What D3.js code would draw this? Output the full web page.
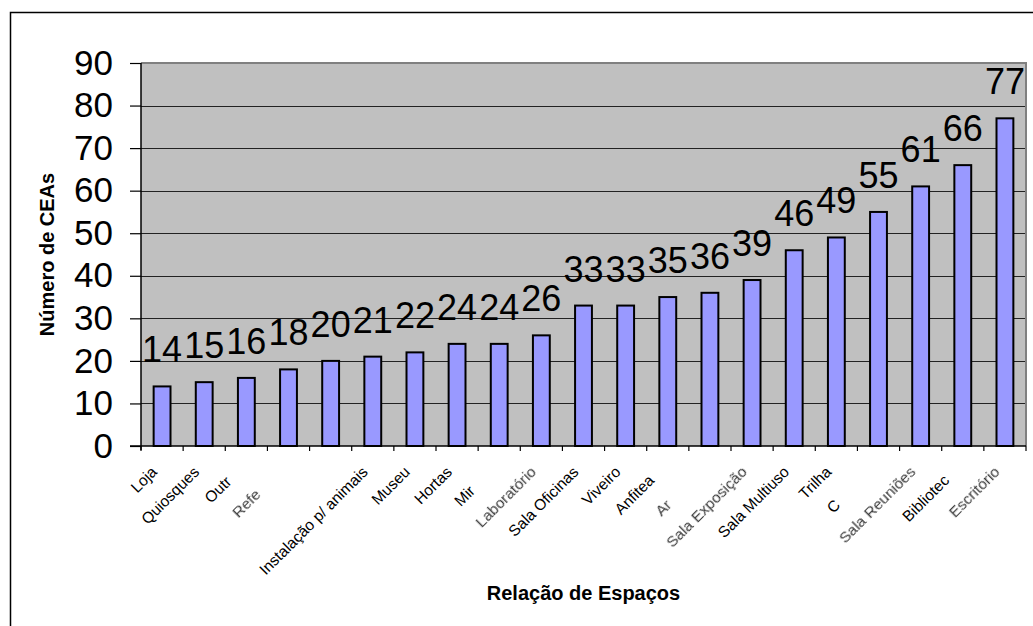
<!DOCTYPE html>
<html>
<head>
<meta charset="utf-8">
<script src="https://cdn.jsdelivr.net/npm/d3@7"></script>
<style>
  html, body { margin: 0; padding: 0; background: #fff; }
  svg { display: block; font-family: "Liberation Sans", Arial, sans-serif; }
</style>
</head>
<body>
<svg id="chart" width="1033" height="626"></svg>
<script>
// Spaces available in the environmental education centres (CEAs)
const categories = [
  "Loja", "Quiosques", "Outr", "Refe", "", "Instalação p/ animais", "Museu",
  "Hortas", "Mir", "Laboratório", "Sala Oficinas", "Viveiro", "Anfitea", "Ar",
  "Sala Exposição", "Sala Multiuso", "Trilha", "C", "Sala Reuniões",
  "Bibliotec", "Escritório"
];
const counts = [14, 15, 16, 18, 20, 21, 22, 24, 24, 26, 33, 33, 35, 36, 39, 46, 49, 55, 61, 66, 77];
const yTicks = [0, 10, 20, 30, 40, 50, 60, 70, 80, 90];
const yTitle = "Número de CEAs";
const xTitle = "Relação de Espaços";

// Label layout: shortened labels slide back along their baseline,
// and a few labels are printed in a softer grey.
const labelShift = { 2: 14, 3: 32, 8: 27, 12: 12, 13: 47, 17: 47, 19: 12 };
const softLabels = new Set([3, 9, 13, 14, 18, 20]);

const svg = d3.select("#chart");
const plot = { left: 141, right: 1026, top: 63, bottom: 446 };

const defs = svg.append("defs");
defs.append("filter").attr("id", "soft")
  .attr("x", "-10%").attr("y", "-10%").attr("width", "120%").attr("height", "120%")
  .append("feGaussianBlur").attr("stdDeviation", 0.5);

// outer frame (runs past the right and bottom edges)
svg.append("rect")
  .attr("x", 10.5).attr("y", 12.5)
  .attr("width", 1200).attr("height", 800)
  .attr("fill", "none").attr("stroke", "#000").attr("stroke-width", 1.5);

const x = d3.scaleBand()
  .domain(d3.range(categories.length))
  .range([plot.left, plot.right])
  .paddingInner(0.6).paddingOuter(0.3);

const y = d3.scaleLinear().domain([0, 90]).range([plot.bottom, plot.top]);

// plot background
svg.append("rect")
  .attr("x", plot.left).attr("y", plot.top)
  .attr("width", plot.right - plot.left).attr("height", plot.bottom - plot.top)
  .attr("fill", "#c0c0c0");

// horizontal gridlines
svg.append("g")
  .selectAll("line")
  .data(yTicks.filter(t => t > 0 && t < 90))
  .join("line")
  .attr("x1", plot.left).attr("x2", plot.right)
  .attr("y1", d => Math.round(y(d)) + 0.5).attr("y2", d => Math.round(y(d)) + 0.5)
  .attr("stroke", "#222").attr("stroke-width", 1);

// plot border (top and right)
svg.append("path")
  .attr("d", `M${plot.left},${plot.top} H${plot.right} V${plot.bottom}`)
  .attr("fill", "none").attr("stroke", "#808080").attr("stroke-width", 2);

// bars
svg.append("g")
  .selectAll("rect")
  .data(counts)
  .join("rect")
  .attr("x", (d, i) => x(i))
  .attr("y", d => y(d))
  .attr("width", x.bandwidth())
  .attr("height", d => y(0) - y(d))
  .attr("fill", "#9999ff")
  .attr("stroke", "#000")
  .attr("stroke-width", 2);

// value labels
svg.append("g")
  .selectAll("text")
  .data(counts)
  .join("text")
  .attr("x", (d, i) => x(i) + x.bandwidth() / 2)
  .attr("y", d => y(d) - 24)
  .attr("text-anchor", "middle")
  .attr("font-size", 36)
  .attr("fill", "#000")
  .text(d => d);

// y axis
const yAxis = d3.axisLeft(y).tickValues(yTicks).tickSize(11).tickPadding(17);
const gy = svg.append("g").attr("transform", `translate(${plot.left},0)`).call(yAxis);
gy.select(".domain").attr("stroke", "#000").attr("stroke-width", 1.5)
  .attr("d", `M0,${plot.top}V${plot.bottom + 4}`);
gy.selectAll(".tick line").attr("stroke", "#000").attr("stroke-width", 1.2);
gy.selectAll(".tick text")
  .attr("font-family", "'Liberation Sans', Arial, sans-serif")
  .attr("font-size", 35).attr("fill", "#000");

// x axis line and category boundary ticks
const step = x.step();
const boundaries = d3.range(categories.length + 1).map(i => plot.left + i * step);
svg.append("line")
  .attr("x1", plot.left - 11).attr("x2", plot.right)
  .attr("y1", plot.bottom).attr("y2", plot.bottom)
  .attr("stroke", "#000").attr("stroke-width", 1.5);
svg.append("g")
  .selectAll("line")
  .data(boundaries)
  .join("line")
  .attr("x1", d => d).attr("x2", d => d)
  .attr("y1", plot.bottom).attr("y2", plot.bottom + 5)
  .attr("stroke", "#000").attr("stroke-width", 1.2);

// rotated category labels
svg.append("g")
  .selectAll("text")
  .data(categories)
  .join("text")
  .attr("transform", (d, i) => `translate(${x(i) + x.bandwidth() / 2 - 12},465) rotate(-45)`)
  .attr("dx", (d, i) => -(labelShift[i] || 0))
  .attr("dy", "0.72em")
  .attr("text-anchor", "end")
  .attr("font-size", 15.5)
  .attr("fill", (d, i) => softLabels.has(i) ? "#3a3a3a" : "#000")
  .attr("filter", (d, i) => softLabels.has(i) ? "url(#soft)" : null)
  .text(d => d);

// axis titles
svg.append("text")
  .attr("transform", `translate(54,${(plot.top + plot.bottom) / 2}) rotate(-90)`)
  .attr("text-anchor", "middle")
  .attr("font-size", 20).attr("font-weight", "bold")
  .text(yTitle);

svg.append("text")
  .attr("x", (plot.left + plot.right) / 2).attr("y", 600)
  .attr("text-anchor", "middle")
  .attr("font-size", 20).attr("font-weight", "bold")
  .text(xTitle);
</script>
</body>
</html>
